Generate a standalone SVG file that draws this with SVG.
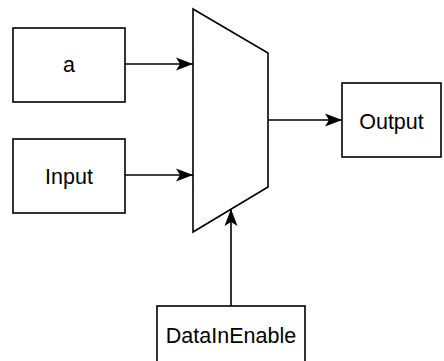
<svg xmlns="http://www.w3.org/2000/svg" width="444" height="361" viewBox="0 0 444 361">
<defs>
<style>
.box{fill:#fff;stroke:#000;stroke-width:1.6}
.lbl{font-family:"Liberation Sans",Arial,sans-serif;font-size:21.5px;fill:#000;text-anchor:middle}
.edge{fill:none;stroke:#000;stroke-width:1.6}
</style>
<marker id="arr" markerUnits="userSpaceOnUse" markerWidth="20" markerHeight="16" viewBox="0 0 20 16" refX="18" refY="8" orient="auto">
<path d="M18,8 L1,1.5 L5,8 L1,14.5 Z" fill="#000"/>
</marker>
</defs>
<rect width="444" height="361" fill="#fff"/>
<g id="connectors">
<line class="edge" x1="125" y1="64" x2="193" y2="64" marker-end="url(#arr)"/>
<line class="edge" x1="125" y1="175" x2="193" y2="175" marker-end="url(#arr)"/>
<line class="edge" x1="268" y1="120" x2="342" y2="120" marker-end="url(#arr)"/>
<line class="edge" x1="231" y1="306" x2="231" y2="209" marker-end="url(#arr)"/>
</g>
<g id="mux">
<path class="box" d="M193,9 L268,53 L268,187 L193,232 Z"/>
</g>
<g id="node-a">
<rect class="box" x="13" y="28" width="112" height="74"/>
<text class="lbl" x="69" y="72">a</text>
</g>
<g id="node-input">
<rect class="box" x="13" y="139" width="112" height="74"/>
<text class="lbl" x="69" y="184">Input</text>
</g>
<g id="node-output">
<rect class="box" x="342" y="83" width="99" height="74"/>
<text class="lbl" x="391.5" y="129">Output</text>
</g>
<g id="node-datainenable">
<rect class="box" x="157" y="306" width="148" height="74"/>
<text class="lbl" x="231" y="343">DataInEnable</text>
</g>
</svg>
